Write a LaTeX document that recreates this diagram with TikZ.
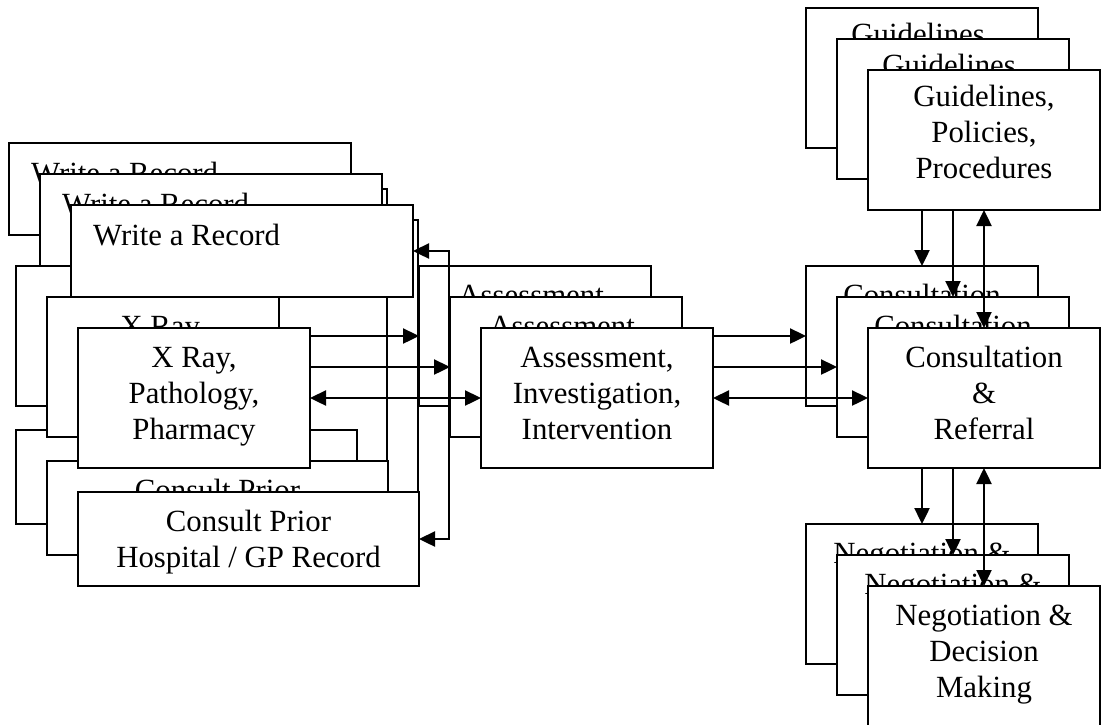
\documentclass[tikz,border=0pt]{standalone}
\usepackage{fontspec}
\setmainfont{Liberation Serif}
\usetikzlibrary{arrows.meta}
\newcommand\firststrut{\rule{0pt}{21pt}}
\newcommand\laststrut{\rule[-10pt]{0pt}{10pt}}
\newcommand\laststrutg{\rule[-16pt]{0pt}{16pt}}
\tikzset{
  box/.style={draw, fill=white, line width=1.4pt, inner sep=0pt, outer sep=0pt,
    rectangle, align=center, font=\fontsize{30.8}{36}\selectfont},
  wide/.style={minimum width=232pt, minimum height=140pt},
  conn/.style={line width=2.4pt,
    {Triangle[length=16pt,width=15pt]}-{Triangle[length=16pt,width=15pt]}},
  txt/.style={inner sep=0pt, font=\fontsize{30.8}{36}\selectfont},
}
\newcommand\drawlayer[1]{%
\begin{scope}[shift={(31*#1,31*#1)}]
  \node[box,minimum width=342pt,minimum height=92pt,anchor=north west] (W#1) at (9,143) {};
  \node[txt,anchor=base west] (Wt#1) at (31,183) {Write a Record};
  \node[box,wide,anchor=north west] (X#1) at (16,266) {\firststrut X Ray,\\Pathology,\\Pharmacy\laststrut};
  \node[box,minimum width=341pt,minimum height=94pt,anchor=north west] (K#1) at (16,430) {\rule{0pt}{30pt}Consult Prior\\Hospital / GP Record\laststrut};
  \node[box,wide,anchor=north west] (A#1) at (419,266) {\firststrut Assessment,\\Investigation,\\Intervention\laststrut};
  \node[box,wide,anchor=north west] (C#1) at (806,266) {\firststrut Consultation\\\&\\Referral\laststrut};
  \node[box,wide,anchor=north west] (G#1) at (806,8) {\firststrut Guidelines,\\Policies,\\Procedures\laststrutg};
  \node[box,wide,anchor=north west] (N#1) at (806,524) {\firststrut Negotiation \&\\Decision\\Making\laststrut};
  \draw[conn] (X#1.east) -- (A#1.west);
  \draw[conn] (A#1.east) -- (C#1.west);
  \draw[conn] (G#1.south) -- (C#1.north);
  \draw[conn] (C#1.south) -- (N#1.north);
  \draw[conn] (W#1.east) -- ++(36,0) |- (K#1.east);
\end{scope}}
\begin{document}
\begin{tikzpicture}[x=1pt,y=-1pt]
  \fill[white] (0,0) rectangle (1103,724);
  \useasboundingbox (0,0) rectangle (1103,724);
  \drawlayer{0}
  \drawlayer{1}
  \drawlayer{2}
\end{tikzpicture}
\end{document}
